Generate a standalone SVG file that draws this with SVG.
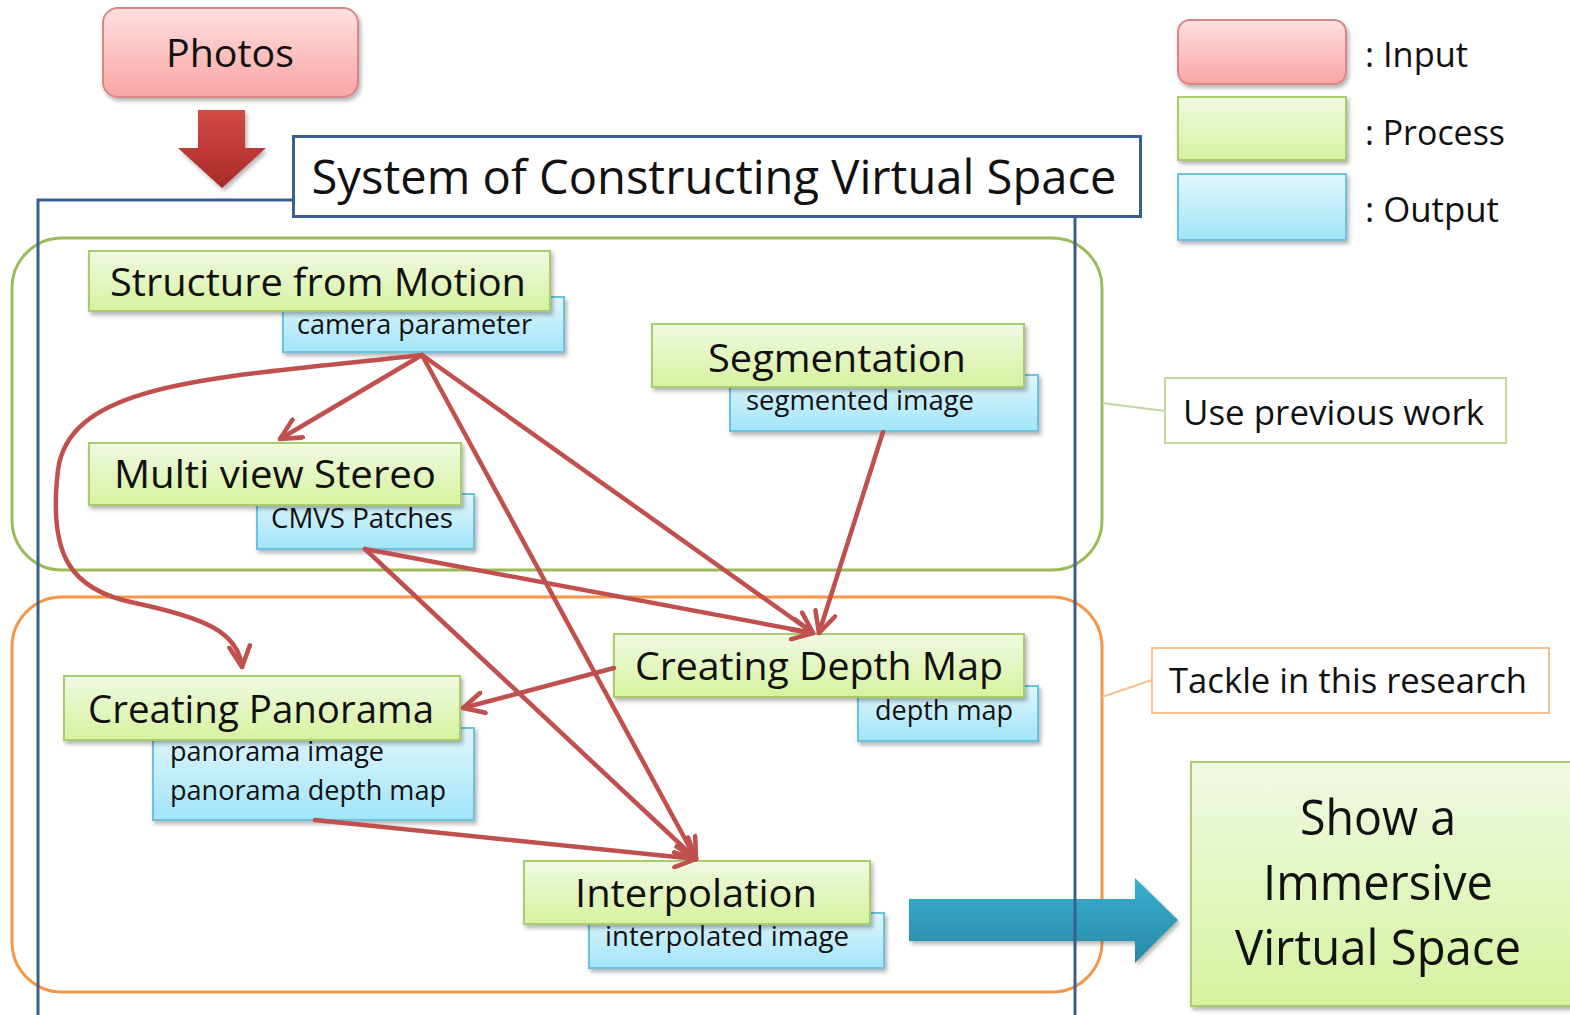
<svg xmlns="http://www.w3.org/2000/svg" width="1570" height="1015" viewBox="0 0 1570 1015">
<defs>
<linearGradient id="gIn" x1="0" y1="0" x2="0" y2="1"><stop offset="0" stop-color="#FFDFDF"/><stop offset="1" stop-color="#F9A5A3"/></linearGradient>
<linearGradient id="gPr" x1="0" y1="0" x2="0" y2="1"><stop offset="0" stop-color="#F0F9E2"/><stop offset="1" stop-color="#D6F29F"/></linearGradient>
<linearGradient id="gOut" x1="0" y1="0" x2="0" y2="1"><stop offset="0" stop-color="#E0F6FC"/><stop offset="1" stop-color="#A2E4F9"/></linearGradient>
<linearGradient id="gRed" x1="0" y1="0" x2="0" y2="1"><stop offset="0" stop-color="#D44A46"/><stop offset="1" stop-color="#A82A28"/></linearGradient>
<linearGradient id="gBlue" x1="0" y1="0" x2="0" y2="1"><stop offset="0" stop-color="#37B0D0"/><stop offset="1" stop-color="#2A88A6"/></linearGradient>
<filter id="sh" x="-10%" y="-10%" width="120%" height="130%"><feDropShadow dx="2" dy="3" stdDeviation="2" flood-color="#000" flood-opacity="0.3"/></filter>
<marker id="ah" viewBox="0 0 12 12" refX="11" refY="6" markerWidth="5.5" markerHeight="5.5" orient="auto" markerUnits="strokeWidth">
<path d="M1,1 L11,6 L1,11" fill="none" stroke="#C0504D" stroke-width="2.2" stroke-linecap="round" stroke-linejoin="round"/>
</marker>
<style>
text{font-family:"Open Sans","Noto Sans","Liberation Sans",sans-serif;fill:#111}
.in{fill:url(#gIn);stroke:#D98684;stroke-width:2;filter:url(#sh)}
.pr{fill:url(#gPr);stroke:#A9CD6D;stroke-width:2;filter:url(#sh)}
.out{fill:url(#gOut);stroke:#6CC3DF;stroke-width:2;filter:url(#sh)}
.big{font-size:38px}
.sm{font-size:27px}
.leg{font-size:34px}
.con{fill:none;stroke:#C0504D;stroke-width:4.5;stroke-linecap:round;marker-end:url(#ah)}
.frame{fill:none;stroke:#3B5E8E;stroke-width:3}
</style>
</defs>
<rect width="1570" height="1015" fill="#fff"/>

<g id="containers">
<rect x="12" y="238" width="1090" height="332" rx="50" fill="none" stroke="#9BBB59" stroke-width="3"/>
<rect x="12" y="597" width="1090" height="395" rx="50" fill="none" stroke="#F79646" stroke-width="3"/>
<line x1="1102" y1="403" x2="1165" y2="411" stroke="#C3D69B" stroke-width="2"/>
<line x1="1102" y1="697" x2="1152" y2="680" stroke="#FAC090" stroke-width="2"/>
</g>

<g id="output-arrow">
<polygon points="909,899 1135,899 1135,878 1178,920 1135,963 1135,941 909,941" fill="url(#gBlue)" filter="url(#sh)"/>
</g>

<g id="system-frame">
<polyline class="frame" points="38,1015 38,200 293,200"/>
<line class="frame" x1="1075" y1="217" x2="1075" y2="1015"/>
<rect x="293.5" y="136.5" width="847" height="80" fill="#fff" stroke="#3B5E8E" stroke-width="3"/>
<text x="714" y="194" font-size="48" text-anchor="middle" textLength="805" lengthAdjust="spacingAndGlyphs">System of Constructing Virtual Space</text>
</g>

<g id="photos">
<rect class="in" x="103" y="8" width="255" height="89" rx="15"/>
<text x="230" y="67" font-size="38" text-anchor="middle" textLength="128" lengthAdjust="spacingAndGlyphs">Photos</text>
</g>
<g id="photos-arrow">
<polygon points="198,110 245,110 245,148 266,148 222,188 178,148 198,148" fill="url(#gRed)" filter="url(#sh)"/>
</g>

<g id="legend">
<rect class="in" x="1178" y="20" width="168" height="64" rx="12"/>
<rect class="pr" x="1178" y="97" width="168" height="63"/>
<rect class="out" x="1178" y="174" width="168" height="66"/>
<text class="leg" x="1365" y="67" textLength="103" lengthAdjust="spacingAndGlyphs">: Input</text>
<text class="leg" x="1365" y="145" textLength="140" lengthAdjust="spacingAndGlyphs">: Process</text>
<text class="leg" x="1365" y="222" textLength="134" lengthAdjust="spacingAndGlyphs">: Output</text>
</g>

<g id="note-previous">
<rect x="1165" y="378" width="341" height="65" fill="#fff" stroke="#C3D69B" stroke-width="2"/>
<text class="leg" x="1183" y="425" textLength="301" lengthAdjust="spacingAndGlyphs">Use previous work</text>
</g>
<g id="note-research">
<rect x="1152" y="648" width="397" height="65" fill="#fff" stroke="#FAC090" stroke-width="2"/>
<text class="leg" x="1169" y="693" textLength="358" lengthAdjust="spacingAndGlyphs">Tackle in this research</text>
</g>

<g id="sfm">
<rect class="out" x="283" y="297" width="281" height="55"/>
<text class="sm" x="297" y="334" textLength="235" lengthAdjust="spacingAndGlyphs">camera parameter</text>
<rect class="pr" x="89" y="251" width="461" height="60"/>
<text class="big" x="110" y="296" textLength="416" lengthAdjust="spacingAndGlyphs">Structure from Motion</text>
</g>

<g id="segmentation">
<rect class="out" x="730" y="375" width="308" height="56"/>
<text class="sm" x="746" y="410" textLength="228" lengthAdjust="spacingAndGlyphs">segmented image</text>
<rect class="pr" x="652" y="324" width="372" height="63"/>
<text class="big" x="708" y="372" textLength="258" lengthAdjust="spacingAndGlyphs">Segmentation</text>
</g>

<g id="mvs">
<rect class="out" x="257" y="494" width="217" height="55"/>
<text class="sm" x="271" y="528" textLength="182" lengthAdjust="spacingAndGlyphs">CMVS Patches</text>
<rect class="pr" x="89" y="443" width="372" height="62"/>
<text class="big" x="114" y="488" textLength="322" lengthAdjust="spacingAndGlyphs">Multi view Stereo</text>
</g>

<g id="depthmap">
<rect class="out" x="858" y="686" width="180" height="55"/>
<text class="sm" x="875" y="720" textLength="138" lengthAdjust="spacingAndGlyphs">depth map</text>
<rect class="pr" x="614" y="634" width="410" height="63"/>
<text class="big" x="635" y="680" textLength="368" lengthAdjust="spacingAndGlyphs">Creating Depth Map</text>
</g>

<g id="panorama">
<rect class="out" x="153" y="728" width="321" height="92"/>
<text class="sm" x="170" y="761" textLength="214" lengthAdjust="spacingAndGlyphs">panorama image</text>
<text class="sm" x="170" y="800" textLength="276" lengthAdjust="spacingAndGlyphs">panorama depth map</text>
<rect class="pr" x="64" y="676" width="396" height="64"/>
<text class="big" x="88" y="723" textLength="346" lengthAdjust="spacingAndGlyphs">Creating Panorama</text>
</g>

<g id="interpolation">
<rect class="out" x="589" y="913" width="295" height="55"/>
<text class="sm" x="605" y="946" textLength="244" lengthAdjust="spacingAndGlyphs">interpolated image</text>
<rect class="pr" x="524" y="861" width="346" height="63"/>
<text class="big" x="575" y="907" textLength="242" lengthAdjust="spacingAndGlyphs">Interpolation</text>
</g>

<g id="show">
<rect class="pr" x="1191" y="762" width="392" height="244"/>
<text x="1378" y="835" font-size="50" text-anchor="middle" textLength="156" lengthAdjust="spacingAndGlyphs">Show a</text>
<text x="1378" y="900" font-size="50" text-anchor="middle" textLength="230" lengthAdjust="spacingAndGlyphs">Immersive</text>
<text x="1378" y="965" font-size="50" text-anchor="middle" textLength="286" lengthAdjust="spacingAndGlyphs">Virtual Space</text>
</g>

<g id="connectors">
<line class="con" x1="422" y1="355" x2="280" y2="439"/>
<path class="con" d="M422,355 C220,378 70,380 58,470 C48,555 70,590 135,603 C205,618 238,632 242,667"/>
<line class="con" x1="422" y1="355" x2="813" y2="633"/>
<line class="con" x1="422" y1="355" x2="696" y2="859"/>
<line class="con" x1="883" y1="432" x2="819" y2="633"/>
<line class="con" x1="365" y1="549" x2="813" y2="633"/>
<line class="con" x1="365" y1="549" x2="696" y2="859"/>
<line class="con" x1="614" y1="668" x2="463" y2="708"/>
<line class="con" x1="315" y1="820" x2="696" y2="859"/>
</g>
</svg>
